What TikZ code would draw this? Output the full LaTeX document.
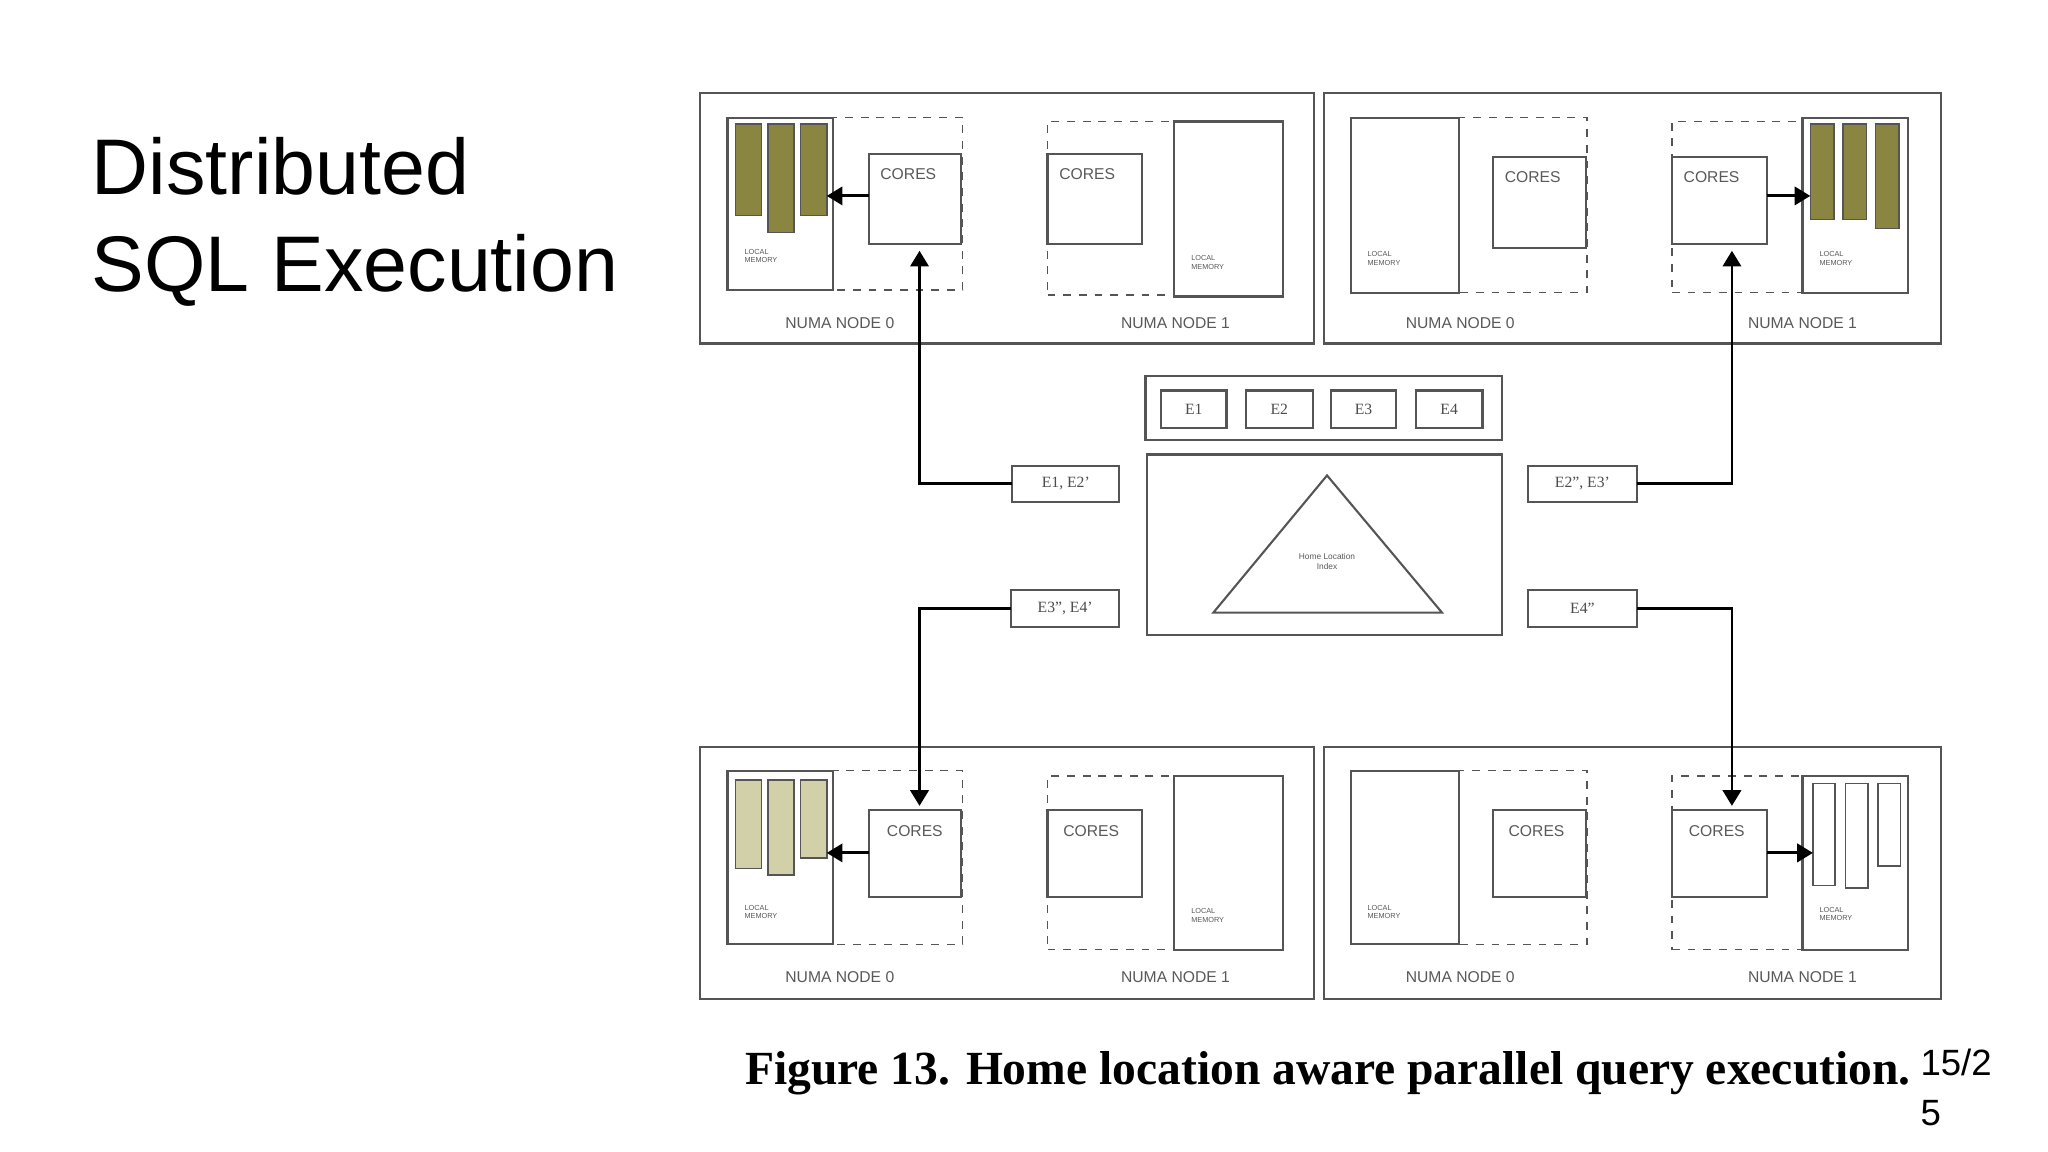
\documentclass[tikz,border=0pt]{standalone}
\usepackage{fontspec}
\setmainfont{Liberation Serif}
\newfontfamily\sans{Liberation Sans}
\usetikzlibrary{arrows.meta}
\definecolor{olive1}{HTML}{8A8540}
\definecolor{pale}{HTML}{D2D0A8}
\definecolor{lnc}{HTML}{555555}
\newcommand{\bx}[6]{\node[#6,minimum width={(#4-#2)*0.5pt},minimum height={(#5-#3)*0.5pt}] (#1) at ({(#2+#4)/2},{(#3+#5)/2}) {};}
\begin{document}
\begin{tikzpicture}[x=0.5pt,y=-0.5pt,
  box/.style={draw=lnc,line width=0.8pt,inner sep=0,outer sep=0,fill=white},
  dbox/.style={draw=lnc,line width=0.6pt,dashed,inner sep=0,outer sep=0},
  bar/.style={draw=lnc,line width=0.6pt,inner sep=0,outer sep=0},
  lab/.style={font=\sans\fontsize{6}{7}\selectfont,text=gray!70!black},
  tiny/.style={font=\sans\fontsize{2.8}{3.2}\selectfont,text=gray!70!black,align=left},
  elab/.style={font=\fontsize{6}{7}\selectfont,text=gray!60!black},
  conn/.style={line width=1.1pt,-{Triangle[length=6pt,width=7pt]}}]
\useasboundingbox (0,0) rectangle (1568,882);
\node[font=\sans\fontsize{30.2}{37}\selectfont,anchor=north west,align=left,inner sep=0] (title) at (70,105) {Distributed\\SQL Execution};
% ===== top-left =====
\bx{tlp}{536}{71}{1006}{263}{box}
\bx{tld0}{557}{90}{737}{222}{dbox}
\bx{tlm0}{557}{90}{638}{222}{box}
\bx{tlb1}{563}{95}{583}{165}{bar,fill=olive1}
\bx{tlb2}{588}{95}{608}{178}{bar,fill=olive1}
\bx{tlb3}{613}{95}{633}{165}{bar,fill=olive1}
\node[tiny,anchor=west] (tlt0) at (563,196) {LOCAL\\MEMORY};
\bx{tlc0}{665}{118}{736}{187}{box}
\node[lab,anchor=north west] (tlct0) at (667,122) {CORES};
\node[lab] (tln0) at (643,247) {NUMA NODE 0};
\bx{tld1}{802}{93}{980}{226}{dbox}
\bx{tlc1}{802}{118}{874}{187}{box}
\node[lab,anchor=north west] (tlct1) at (804,122) {CORES};
\bx{tlm1}{899}{93}{982}{227}{box}
\node[tiny,anchor=west] (tlt1) at (905,201) {LOCAL\\MEMORY};
\node[lab] (tln1) at (900,247) {NUMA NODE 1};
\draw[conn] (tlc0.west|-0,150) -- (tlb3.east|-0,150);
% ===== top-right =====
\bx{trp}{1014}{71}{1486}{263}{box}
\bx{trd0}{1034}{90}{1215}{224}{dbox}
\bx{trm0}{1034}{90}{1117}{224}{box}
\node[tiny,anchor=west] (trt0) at (1040,198) {LOCAL\\MEMORY};
\bx{trc0}{1143}{120}{1214}{190}{box}
\node[lab,anchor=north west] (trct0) at (1145,124) {CORES};
\node[lab] (trn0) at (1118,247) {NUMA NODE 0};
\bx{trd1}{1280}{93}{1460}{224}{dbox}
\bx{trc1}{1280}{120}{1353}{187}{box}
\node[lab,anchor=north west] (trct1) at (1282,124) {CORES};
\bx{trm1}{1380}{90}{1461}{224}{box}
\bx{trb1}{1386}{95}{1404}{168}{bar,fill=olive1}
\bx{trb2}{1411}{95}{1429}{168}{bar,fill=olive1}
\bx{trb3}{1436}{95}{1454}{175}{bar,fill=olive1}
\node[tiny,anchor=west] (trt1) at (1386,198) {LOCAL\\MEMORY};
\node[lab] (trn1) at (1380,247) {NUMA NODE 1};
\draw[conn] (trc1.east|-0,150) -- (trb1.west|-0,150);
% ===== bottom-left =====
\bx{blp}{536}{572}{1006}{765}{box}
\bx{bld0}{557}{590}{737}{723}{dbox}
\bx{blm0}{557}{590}{638}{723}{box}
\bx{blb1}{563}{597}{583}{665}{bar,fill=pale}
\bx{blb2}{588}{597}{608}{670}{bar,fill=pale}
\bx{blb3}{613}{597}{633}{657}{bar,fill=pale}
\node[tiny,anchor=west] (blt0) at (563,698) {LOCAL\\MEMORY};
\bx{blc0}{665}{620}{736}{687}{box}
\node[lab,anchor=north west] (blct0) at (672,625) {CORES};
\node[lab] (bln0) at (643,748) {NUMA NODE 0};
\bx{bld1}{802}{594}{980}{727}{dbox}
\bx{blc1}{802}{620}{874}{687}{box}
\node[lab,anchor=north west] (blct1) at (807,625) {CORES};
\bx{blm1}{899}{594}{982}{727}{box}
\node[tiny,anchor=west] (blt1) at (905,701) {LOCAL\\MEMORY};
\node[lab] (bln1) at (900,748) {NUMA NODE 1};
\draw[conn] (blc0.west|-0,653) -- (blb3.east|-0,653);
% ===== bottom-right =====
\bx{brp}{1014}{572}{1486}{765}{box}
\bx{brd0}{1034}{590}{1215}{723}{dbox}
\bx{brm0}{1034}{590}{1117}{723}{box}
\node[tiny,anchor=west] (brt0) at (1040,698) {LOCAL\\MEMORY};
\bx{brc0}{1143}{620}{1214}{687}{box}
\node[lab,anchor=north west] (brct0) at (1148,625) {CORES};
\node[lab] (brn0) at (1118,748) {NUMA NODE 0};
\bx{brd1}{1280}{594}{1460}{727}{dbox}
\bx{brc1}{1280}{620}{1353}{687}{box}
\node[lab,anchor=north west] (brct1) at (1286,625) {CORES};
\bx{brm1}{1380}{594}{1461}{727}{box}
\bx{brb1}{1388}{600}{1405}{678}{bar}
\bx{brb2}{1413}{600}{1430}{680}{bar}
\bx{brb3}{1438}{600}{1455}{663}{bar}
\node[tiny,anchor=west] (brt1) at (1386,700) {LOCAL\\MEMORY};
\node[lab] (brn1) at (1380,748) {NUMA NODE 1};
\draw[conn] (brc1.east|-0,653) -- (brb1.west|-0,653);
% ===== centre =====
\bx{eall}{877}{288}{1150}{337}{box}
\bx{e1}{889}{299}{939}{328}{box}\node[elab] (e1t) at (e1) {E1};
\bx{e2}{954}{299}{1005}{328}{box}\node[elab] (e2t) at (e2) {E2};
\bx{e3}{1019}{299}{1069}{328}{box}\node[elab] (e3t) at (e3) {E3};
\bx{e4}{1084}{299}{1135}{328}{box}\node[elab] (e4t) at (e4) {E4};
\bx{idx}{878}{348}{1150}{486}{box}
\draw[lnc,line width=0.8pt] (1016,364) -- (1104,469) -- (929,469) -- cycle;
\node[font=\sans\fontsize{3.2}{4}\selectfont,align=center,text=gray!70!black] (idxt) at (1016,430) {Home Location\\Index};
\bx{la}{775}{357}{857}{384}{box}\node[elab] (lat) at (la) {E1, E2'};
\bx{lb}{774}{452}{857}{480}{box}\node[elab] (lbt) at (lb) {E3'', E4'};
\bx{lc}{1170}{357}{1253}{384}{box}\node[elab] (lct) at (lc) {E2'', E3'};
\bx{ld}{1170}{452}{1253}{480}{box}\node[elab] (ldt) at (ld) {E4''};
\draw[conn] (la.west) -- (704,370.5) -- (704,192);
\draw[conn] (lc.east) -- (1326,370.5) -- (1326,192);
\draw[conn] (lb.west) -- (704,466) -- (704,617);
\draw[conn] (ld.east) -- (1326,466) -- (1326,617);
% caption
\node[font=\bfseries\fontsize{18.2}{21}\selectfont,anchor=west,inner sep=0] (cap) at (570,822) {Figure 13. Home location aware parallel query execution.};
\node[font=\sans\fontsize{14}{19}\selectfont,anchor=north west,align=left,inner sep=0] (pg) at (1470,803) {15/2\\5};
\end{tikzpicture}
\end{document}
